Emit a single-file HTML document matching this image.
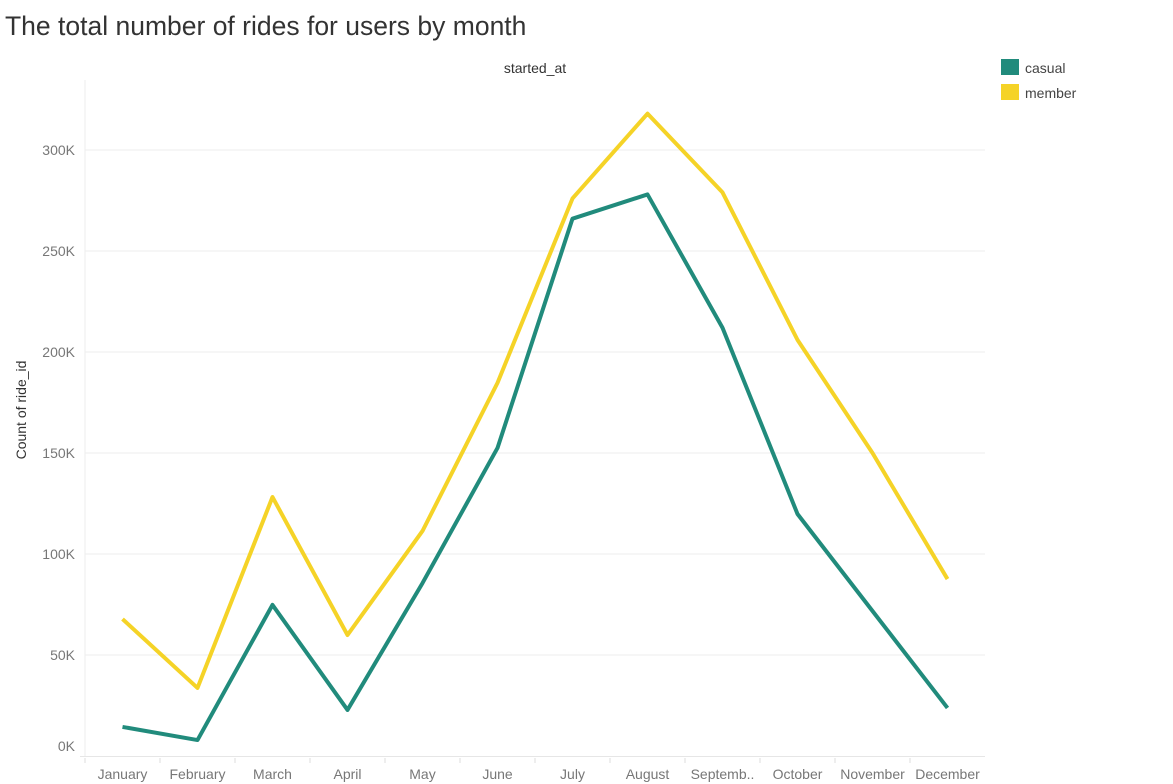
<!DOCTYPE html>
<html><head><meta charset="utf-8"><style>
body{margin:0;background:#fff;font-family:"Liberation Sans",sans-serif;}
</style></head><body>
<svg width="1173" height="784" xmlns="http://www.w3.org/2000/svg" style="display:block">
<text x="5" y="35" font-size="26.5" fill="#333">The total number of rides for users by month</text>
<text x="535" y="73" font-size="14" fill="#333" text-anchor="middle">started_at</text>
<text transform="translate(26,410) rotate(-90)" font-size="14" fill="#333" text-anchor="middle">Count of ride_id</text>
<g id="grid"></g><g id="axes"></g><g id="lines"></g>
<g>
<rect x="1001" y="59" width="18" height="16" fill="#218b7c"/>
<text x="1025" y="73" font-size="14" fill="#444">casual</text>
<rect x="1001" y="84" width="18" height="16" fill="#f5d327"/>
<text x="1025" y="98" font-size="14" fill="#444">member</text>
</g>
</svg>
<script>
const months=["January","February","March","April","May","June","July","August","Septemb..","October","November","December"];
const casual=[14.4,7.9,74.8,22.8,85.6,152.5,266,278,212,119.8,71.8,23.8];
const member=[67.8,33.7,128.2,59.9,111.4,184.7,276,318,279,206,150,87.6];
const yTicks=[0,50,100,150,200,250,300];
const NS="http://www.w3.org/2000/svg";
const x0=85,step=75,yBase=756,ppk=2.02;
const xs=i=>x0+step*i+37.5;
const ys=v=>yBase-v*ppk;
function mk(t,a,p){const e=document.createElementNS(NS,t);for(const k in a)e.setAttribute(k,a[k]);p.appendChild(e);return e;}
const grid=document.getElementById('grid'),axes=document.getElementById('axes'),lines=document.getElementById('lines');
yTicks.forEach(v=>{
 if(v>0){const l=mk('line',{x1:85,x2:985,y1:ys(v),y2:ys(v),stroke:'#ececec','stroke-width':1},grid);
 
 }
 const t=mk('text',{x:75,y:v===0?ys(v)-5:ys(v)+5,'font-size':14,fill:'#777','text-anchor':'end'},axes);
 t.textContent=v+'K';
 
 
});
mk('line',{x1:85,x2:85,y1:80,y2:756,stroke:'#eee'},axes);
mk('line',{x1:80,x2:985,y1:756.5,y2:756.5,stroke:'#e6e6e6'},axes);
months.forEach((m,i)=>{
 mk('line',{x1:x0+step*i,x2:x0+step*i,y1:758,y2:763,stroke:'#ddd'},axes);
 const t=mk('text',{x:xs(i),y:779,'font-size':14,fill:'#777','text-anchor':'middle'},axes);
 t.textContent=m;
 
 
});
function line(d,c,n){const p=mk('polyline',{points:d.map((v,i)=>xs(i)+','+ys(v)).join(' '),fill:'none',stroke:c,'stroke-width':4,'stroke-linejoin':'round'},lines);
 
 }
line(member,'#f5d327','line-member');
line(casual,'#218b7c','line-casual');
</script>
</body></html>
